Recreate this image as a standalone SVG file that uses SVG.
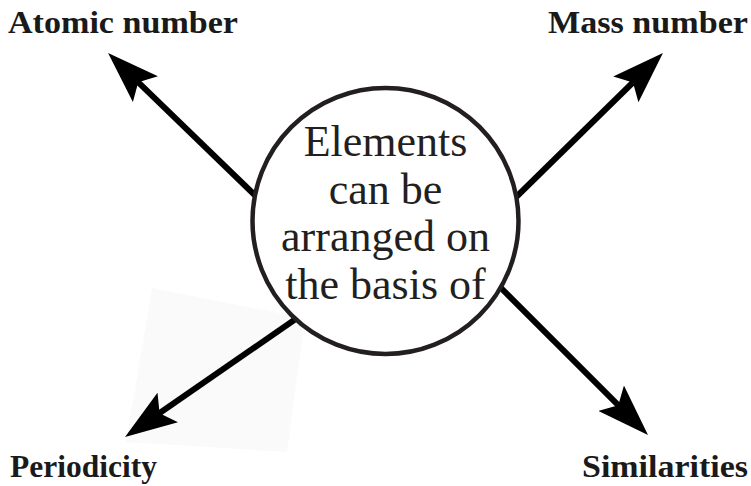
<svg xmlns="http://www.w3.org/2000/svg" width="751" height="486" viewBox="0 0 751 486">
  <style>
    .lbl { font-family: "Liberation Serif", "Times New Roman", serif; font-weight: bold; font-size: 31px; fill: #1a1a1a; }
    .ctext { font-family: "Liberation Serif", "Times New Roman", serif; font-size: 44px; fill: #231f20; text-anchor: middle; }
    .conn { stroke: #000; stroke-width: 6; fill: none; }
  </style>
  <defs>
    <marker id="ah" markerUnits="userSpaceOnUse" viewBox="0 0 52 36" refX="12" refY="18" markerWidth="52" markerHeight="36" orient="auto">
      <path d="M0,0 L52,18 L0,36 L10,18 Z" fill="#000"/>
    </marker>
  </defs>
  <rect width="751" height="486" fill="#fff"/>
  <polygon points="152,288 305,318 287,452 126,442" fill="#fafafa"/>
  <g id="connectors">
    <line class="conn" x1="263" y1="203" x2="136.8" y2="80.8" marker-end="url(#ah)"/>
    <line class="conn" x1="508" y1="205" x2="634.4" y2="81" marker-end="url(#ah)"/>
    <line class="conn" x1="300" y1="316" x2="157.9" y2="414.3" marker-end="url(#ah)"/>
    <line class="conn" x1="495" y1="282" x2="619.7" y2="406.7" marker-end="url(#ah)"/>
  </g>
  <g id="center">
    <circle cx="385.5" cy="221" r="133" fill="#fff" stroke="#231f20" stroke-width="4.5"/>
    <text class="ctext" x="385.5" y="156">Elements</text>
    <text class="ctext" x="385.5" y="203.5">can be</text>
    <text class="ctext" x="385.5" y="251">arranged on</text>
    <text class="ctext" x="385.5" y="298.5">the basis of</text>
  </g>
  <g id="atomic-number">
    <text class="lbl" x="8" y="33" textLength="230" lengthAdjust="spacingAndGlyphs">Atomic number</text>
  </g>
  <g id="mass-number">
    <text class="lbl" x="548" y="33" textLength="200" lengthAdjust="spacingAndGlyphs">Mass number</text>
  </g>
  <g id="periodicity">
    <text class="lbl" x="10" y="477" textLength="147" lengthAdjust="spacingAndGlyphs">Periodicity</text>
  </g>
  <g id="similarities">
    <text class="lbl" x="582" y="477" textLength="166" lengthAdjust="spacingAndGlyphs">Similarities</text>
  </g>
</svg>
